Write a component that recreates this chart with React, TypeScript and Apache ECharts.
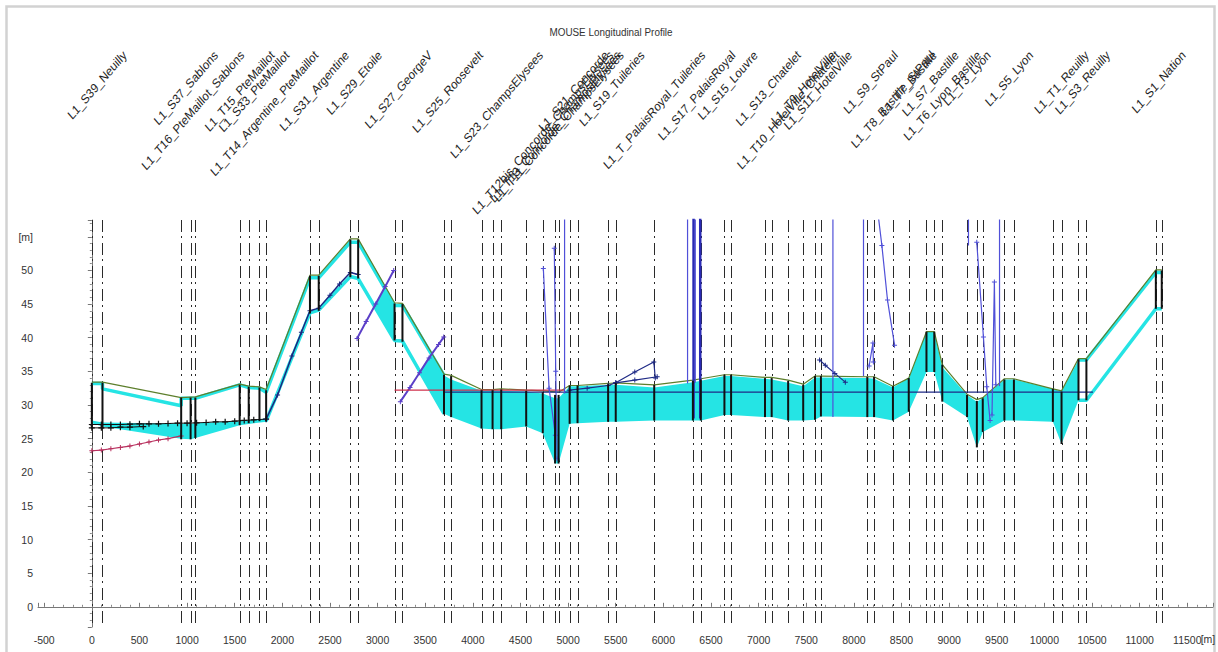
import React, { useEffect, useRef } from 'react';
import * as echarts from 'echarts';

// ---------- data (chainage in m, level in m) ----------
const nodeX = [0, 112, 938, 1037, 1087, 1552, 1647, 1760, 1830, 2290, 2382, 2714, 2796, 3178, 3261, 3697, 3772, 4091, 4207, 4298, 4560, 4734, 4863, 4900, 5016, 5099, 5420, 5500, 5904, 6310, 6393, 6641, 6711, 7067, 7137, 7310, 7468, 7592, 7654, 8141, 8212, 8410, 8576, 8762, 8844, 8928, 9188, 9291, 9353, 9580, 9680, 10089, 10180, 10358, 10441, 11170, 11232];
const manholeBottom = [26.5, 26.5, 24.9, 24.9, 25.1, 27.0, 27.3, 27.6, 27.6, 43.6, 44.0, 49.0, 48.8, 39.6, 39.4, 28.6, 28.2, 26.5, 26.4, 26.4, 26.8, 25.8, 21.3, 21.3, 27.2, 27.3, 27.5, 27.5, 27.7, 27.7, 27.7, 28.5, 28.5, 28.2, 28.2, 27.7, 27.7, 27.8, 28.3, 28.2, 28.2, 27.7, 29.0, 34.9, 34.9, 30.5, 28.2, 23.7, 26.0, 27.7, 27.7, 27.5, 24.2, 30.7, 30.7, 44.3, 44.3];
const manholeTop = [33.3, 33.3, 31.1, 31.1, 31.1, 33.0, 32.7, 32.6, 32.2, 49.2, 49.2, 54.6, 54.6, 45.1, 45.0, 34.5, 34.3, 32.2, 32.2, 32.3, 32.1, 31.9, 31.5, 31.5, 32.9, 32.9, 33.1, 33.3, 33.0, 33.6, 33.8, 34.5, 34.5, 34.0, 34.0, 33.6, 33.0, 34.3, 34.3, 34.2, 34.2, 32.8, 34.0, 40.9, 40.9, 36.0, 31.5, 30.6, 31.0, 33.8, 33.8, 32.4, 32.0, 36.8, 36.8, 50.0, 50.0];

const groundLine = [[0, 33.4], [112, 33.4], [938, 31.1], [1087, 31.2], [1552, 33.1], [1647, 32.8], [1760, 32.7], [1830, 32.3], [2290, 49.3], [2382, 49.3], [2714, 54.7], [2796, 54.7], [3178, 45.2], [3261, 45.1], [3697, 34.6], [3772, 34.4], [4091, 32.3], [4207, 32.3], [4298, 32.4], [4560, 32.2], [4734, 32.1], [4900, 31.9], [5016, 32.9], [5099, 32.9], [5420, 33.2], [5500, 33.3], [5904, 33.0], [6310, 33.7], [6393, 33.9], [6641, 34.5], [6711, 34.5], [7067, 34.1], [7137, 34.1], [7310, 33.7], [7468, 33.1], [7592, 34.3], [7654, 34.3], [8141, 34.2], [8212, 34.2], [8410, 32.8], [8576, 34.0], [8762, 40.9], [8844, 40.9], [8928, 36.0], [9188, 31.6], [9291, 30.8], [9353, 31.1], [9580, 33.9], [9680, 33.9], [10089, 32.4], [10180, 32.1], [10358, 36.9], [10441, 36.9], [11170, 50.1], [11232, 50.1]];

const crownWest = [[0, 33.2], [112, 33.2], [112, 32.4], [938, 29.9], [938, 31.0], [1087, 31.0], [1552, 33.0], [1647, 32.6], [1760, 32.5], [1830, 31.9], [2290, 48.9], [2382, 48.9], [2714, 54.2], [2796, 54.2], [3178, 44.8], [3261, 44.8], [3697, 34.4]];
const invertWest = [[1830, 27.6], [2290, 43.7], [2382, 44.1], [2714, 49.1], [2796, 48.8], [3178, 39.6], [3261, 39.5], [3697, 28.7]];
const crownEast = [[10358, 36.7], [10441, 36.7], [11170, 49.7], [11232, 49.7]];
const invertEast = [[10358, 30.7], [10441, 30.7], [11170, 44.3], [11232, 44.3]];

// [chainage, top, bottom] of the cyan filled band
const fillWest = [[0, 27.7, 27.3], [112, 27.4, 26.8], [938, 27.2, 25.0], [1037, 27.2, 24.9], [1087, 27.3, 25.1], [1552, 27.6, 27.0], [1830, 28.0, 27.5]];
const fillWedge = [[2966, 44.7, 44.7], [3071, 47.4, 42.2], [3178, 44.8, 39.6]];
const fillMain = [[3445, 35.0, 35.0], [3562, 37.6, 32.1], [3697, 34.4, 28.7], [3772, 33.8, 28.2], [4091, 32.1, 26.5], [4207, 32.2, 26.4], [4298, 32.1, 26.4], [4560, 32.0, 26.8], [4734, 31.7, 25.8], [4863, 31.0, 21.3], [4900, 31.0, 21.3], [5016, 32.8, 27.2], [5099, 32.8, 27.3], [5420, 33.0, 27.5], [5500, 33.0, 27.5], [5904, 32.6, 27.7], [6310, 33.4, 27.7], [6393, 33.6, 27.7], [6641, 34.3, 28.5], [6711, 34.3, 28.5], [7067, 33.9, 28.2], [7137, 33.8, 28.2], [7310, 33.3, 27.7], [7468, 32.8, 27.7], [7592, 34.1, 27.8], [7654, 34.1, 28.3], [8141, 34.0, 28.2], [8212, 33.9, 28.2], [8410, 32.6, 27.7], [8576, 34.0, 29.0], [8762, 40.9, 34.9], [8844, 40.9, 34.9], [8928, 35.6, 30.6], [9188, 31.5, 28.2], [9291, 30.5, 23.7], [9353, 31.0, 26.0], [9580, 33.8, 27.7], [9680, 33.8, 27.7], [10089, 32.4, 27.5], [10180, 32.0, 24.2], [10358, 36.7, 30.7]];

const levelWestA = [[0, 27.1], [100, 27.1], [200, 27.1], [300, 27.1], [400, 27.15], [500, 27.2], [600, 27.2], [700, 27.2], [800, 27.25], [900, 27.3], [1000, 27.3], [1100, 27.35], [1200, 27.4], [1300, 27.5], [1400, 27.5], [1500, 27.6], [1600, 27.7], [1700, 27.8], [1830, 27.9]];
const levelWestB = [[0, 26.6], [100, 26.6], [200, 26.6], [300, 26.7], [400, 26.7], [540, 26.8]];
const levelRise = [[1830, 27.9], [1950, 31.5], [2100, 37.3], [2200, 40.8], [2290, 44.0], [2382, 44.4], [2500, 46.3], [2600, 48.0], [2714, 49.7], [2796, 49.4]];
const redWest = [[0, 23.2], [100, 23.3], [200, 23.5], [300, 23.7], [400, 23.9], [500, 24.2], [600, 24.5], [700, 24.8], [800, 25.0], [938, 25.4]];
const purpleA = [[2785, 39.9], [2880, 42.4], [2980, 45.0], [3080, 47.6], [3169, 50.0]];
const purpleB = [[3239, 30.5], [3340, 32.6], [3440, 34.8], [3540, 37.0], [3640, 39.0], [3694, 40.1]];
const redMid = [[3178, 32.2], [4960, 32.2]];
const navyMid = [[3697, 31.9], [10510, 31.9]];
const navyWedgeA = [[5016, 32.2], [5200, 32.5], [5420, 32.9], [5500, 33.3], [5700, 34.9], [5900, 36.4], [5915, 34.0]];
const navyWedgeB = [[5500, 33.3], [5700, 33.7], [5935, 34.2]];
const navyEast = [[7640, 36.7], [7700, 35.9], [7800, 34.7], [7910, 33.4]];
const spikes = [
  [[4740, 50.3], [4800, 32.5], [4866, 25.5]],
  [[4855, 53.3], [4870, 35.0], [4884, 22.0]],
  [[4963, 31.7], [4963, 70]],
  [[6254, 33.2], [6254, 70]],
  [[6335, 33.3], [6335, 70]],
  [[7780, 28.2], [7780, 70]],
  [[8101, 34.3], [8101, 70]],
  [[8240, 60], [8294, 53.7], [8353, 45.6], [8427, 38.9]],
  [[8160, 35.8], [8200, 39.2], [8205, 36.4]],
  [[9203, 53.7], [9203, 70]],
  [[9290, 54.2], [9360, 40.1], [9395, 32.7], [9430, 27.7]],
  [[9450, 28.5], [9475, 48.3], [9490, 33.0]],
  [[9529, 32.8], [9529, 70]],
];
const heavySpikes = [
  [[6317, 28.0], [6317, 70]],
  [[6387, 28.0], [6387, 70]],
];

const stationLabels = ['L1_S39_Neuilly', 'L1_S37_Sablons', 'L1_T16_PteMaillot_Sablons', 'L1_T15_PteMaillot', 'L1_S33_PteMaillot', 'L1_T14_Argentine_PteMaillot', 'L1_S31_Argentine', 'L1_S29_Etoile', 'L1_S27_GeorgeV', 'L1_S25_Roosevelt', 'L1_S23_ChampsElysees', 'L1_T12bis_Concorde_ChampsElysees', 'L1_T13_Concorde_ChampsElysees', 'L1_T11_Concorde_ChampsElysees', 'L1_S21_Concorde', 'L1_S19_Tuileries', 'L1_T_PalaisRoyal_Tuileries', 'L1_S17_PalaisRoyal', 'L1_S15_Louvre', 'L1_S13_Chatelet', 'L1_T10_HotelVille_Chatelet', 'L1_T9_HotelVille', 'L1_S11_HotelVille', 'L1_S9_StPaul', 'L1_T8_Bastille_StPaul', 'L1_T7_Bastille', 'L1_S7_Bastille', 'L1_T6_Lyon_Bastille', 'L1_T3_Lyon', 'L1_S5_Lyon', 'L1_T1_Reuilly', 'L1_S3_Reuilly', 'L1_S1_Nation'];
const stationAt = [56, 988, 1062, 1552, 1703, 1810, 2336, 2755, 3220, 3735, 4250, 4734, 4863, 4900, 5057, 5460, 5904, 6351, 6676, 7102, 7310, 7468, 7623, 8177, 8410, 8576, 8803, 8928, 9188, 9630, 10180, 10400, 11201];

const X_MIN = -565;
const X_MAX = 11770;
const Y_MIN = -3;
const Y_MAX = 57.5;

const FONT = '"Liberation Sans", Arial, sans-serif';
const SQUEEZE = 0.86;
const CYAN = '#25e4e4';
const PLUS = 'path://M4,0H6V4H10V6H6V10H4V6H0V4H4Z';

function measure(text: string, font: string): number {
  const c = document.createElement('canvas');
  const ctx = c.getContext('2d');
  if (!ctx) return text.length * 7;
  ctx.font = font;
  return ctx.measureText(text).width;
}

function lineSeries(data: number[][], color: string, width: number, marker?: boolean, z = 4, markerSize = 6) {
  return {
    type: 'line',
    data,
    symbol: marker ? PLUS : 'none',
    showSymbol: !!marker,
    symbolSize: markerSize,
    itemStyle: { color },
    lineStyle: { color, width },
    clip: true,
    silent: true,
    z,
  };
}

function fillSeries(seg: number[][]) {
  return {
    type: 'custom',
    data: [[seg[0][0], seg[0][1]]],
    clip: true,
    silent: true,
    z: 2,
    renderItem: (_p: any, api: any) => {
      const top = seg.map((p) => api.coord([p[0], p[1]]));
      const bottom = seg.slice().reverse().map((p) => api.coord([p[0], p[2]]));
      return { type: 'polygon', shape: { points: top.concat(bottom) }, style: { fill: CYAN } };
    },
  };
}

export default function App() {
  const ref = useRef<HTMLDivElement>(null);

  useEffect(() => {
    if (!ref.current) return;
    const chart = echarts.init(ref.current, undefined, { renderer: 'svg' });

    const series: any[] = [];
    // dash-dot verticals at nodes
    series.push({
      type: 'custom',
      data: nodeX.map((x) => [x, 0]),
      silent: true,
      z: 1,
      renderItem: (_p: any, api: any) => {
        const a = api.coord([api.value(0), Y_MAX]);
        const b = api.coord([api.value(0), Y_MIN]);
        return {
          type: 'line',
          shape: { x1: Math.round(a[0]) + 0.5, y1: a[1], x2: Math.round(b[0]) + 0.5, y2: b[1] },
          style: { stroke: '#2a2a2a', lineWidth: 1, lineDash: [12, 4, 2, 5] },
        };
      },
    });
    series.push(fillSeries(fillWest));
    series.push(fillSeries(fillWedge));
    series.push(fillSeries(fillMain));
    series.push(lineSeries(crownWest, CYAN, 3.5, false, 3));
    series.push(lineSeries(invertWest, CYAN, 3.5, false, 3));
    series.push(lineSeries(crownEast, CYAN, 3.5, false, 3));
    series.push(lineSeries(invertEast, CYAN, 3.5, false, 3));
    series.push(lineSeries(groundLine, '#5d7f2c', 1.2, false, 4));
    series.push(lineSeries(levelWestA, '#111111', 1, true, 5, 6));
    series.push(lineSeries(levelWestB, '#111111', 1, true, 5, 6));
    series.push(lineSeries(levelRise, '#1c2680', 1.5, true, 5, 5));
    series.push(lineSeries(redWest, '#b8305e', 1.2, true, 5, 5));
    series.push(lineSeries(purpleA, '#5b3fc8', 2, true, 5, 5));
    series.push(lineSeries(purpleB, '#5b3fc8', 2, true, 5, 5));
    series.push(lineSeries(navyMid, '#1f2a86', 1.3, false, 5));
    series.push(lineSeries(redMid, '#d0304c', 1.3, false, 5));
    series.push(lineSeries(navyWedgeA, '#1f2a86', 1.2, true, 5, 5));
    series.push(lineSeries(navyWedgeB, '#1f2a86', 1.2, true, 5, 5));
    series.push(lineSeries(navyEast, '#1f2a86', 1.2, true, 5, 5));
    spikes.forEach((s) => series.push(lineSeries(s, '#5050d8', 1.2, s.length > 2, 5, 5)));
    heavySpikes.forEach((s) => series.push(lineSeries(s, '#2a2ab4', 2.5, false, 5)));
    // manhole walls
    series.push({
      type: 'custom',
      data: nodeX.map((x, i) => [x, manholeBottom[i], manholeTop[i]]),
      encode: { x: 0, y: [1, 2] },
      silent: true,
      clip: true,
      z: 6,
      renderItem: (_p: any, api: any) => {
        const a = api.coord([api.value(0), api.value(1)]);
        const b = api.coord([api.value(0), api.value(2)]);
        return {
          type: 'line',
          shape: { x1: a[0], y1: a[1], x2: b[0], y2: b[1] },
          style: { stroke: '#111111', lineWidth: 2 },
        };
      },
    });

    const axisText = { color: '#333', fontSize: 10.5, fontFamily: FONT };
    chart.setOption({
      animation: false,
      backgroundColor: '#ffffff',
      grid: { left: 38, right: 5, top: 220, bottom: 25 },
      xAxis: {
        type: 'value',
        min: X_MIN,
        max: X_MAX,
        minInterval: 500,
        maxInterval: 500,
        splitNumber: 24,
        axisLine: { show: true, lineStyle: { color: '#777', width: 1 } },
        axisTick: { show: true, inside: true, length: 4, lineStyle: { color: '#777' } },
        minorTick: { show: true, splitNumber: 5, length: 2, lineStyle: { color: '#888' } },
        splitLine: { show: false },
        axisLabel: {
          ...axisText,
          margin: 7,
          showMinLabel: false,
          showMaxLabel: false,
          formatter: (v: number) => String(v),
        },
      },
      yAxis: {
        type: 'value',
        min: Y_MIN,
        max: Y_MAX,
        minInterval: 5,
        maxInterval: 5,
        splitNumber: 12,
        axisLine: { show: true, lineStyle: { color: '#777', width: 1 } },
        axisTick: { show: true, length: 4, lineStyle: { color: '#777' } },
        minorTick: { show: true, splitNumber: 5, length: 2, lineStyle: { color: '#888' } },
        splitLine: { show: false },
        axisLabel: {
          ...axisText,
          margin: 5,
          showMinLabel: false,
          showMaxLabel: false,
          formatter: (v: number) => (v === 55 ? '[m]' : String(v)),
        },
      },
      series,
    });

    // texts: title, station labels, unit
    const labelFont = `13px ${FONT}`;
    const graphics: any[] = [
      {
        type: 'rect',
        shape: { x: 6.5, y: 6.5, width: 1208, height: 700 },
        style: { fill: 'none', stroke: '#d2d2d2', lineWidth: 2.5 },
        silent: true,
      },
      {
        type: 'group',
        x: 611,
        y: 32,
        scaleX: SQUEEZE,
        children: [
          {
            type: 'text',
            style: { text: 'MOUSE Longitudinal Profile', font: `11.5px ${FONT}`, fill: '#333', align: 'center', verticalAlign: 'middle' },
          },
        ],
      },
      {
        type: 'text',
        x: 1208,
        y: 639,
        style: { text: '[m]', font: `10.5px ${FONT}`, fill: '#333', align: 'center', verticalAlign: 'middle' },
      },
    ];
    stationLabels.forEach((t, i) => {
      const px = chart.convertToPixel({ xAxisIndex: 0 }, stationAt[i]) as number;
      const w = measure(t, labelFont);
      graphics.push({
        type: 'group',
        x: px + SQUEEZE * w * 0.3536,
        y: 53,
        scaleX: SQUEEZE,
        silent: true,
        children: [
          {
            type: 'text',
            rotation: Math.PI / 4,
            style: { text: t, font: labelFont, fill: '#1e1e1e', align: 'right', verticalAlign: 'middle' },
          },
        ],
      });
    });
    chart.setOption({ graphic: graphics });

    return () => chart.dispose();
  }, []);

  return (
    <div
      ref={ref}
      style={{ position: 'fixed', left: 0, top: 0, width: 1218, height: 652, background: '#ffffff' }}
    />
  );
}
